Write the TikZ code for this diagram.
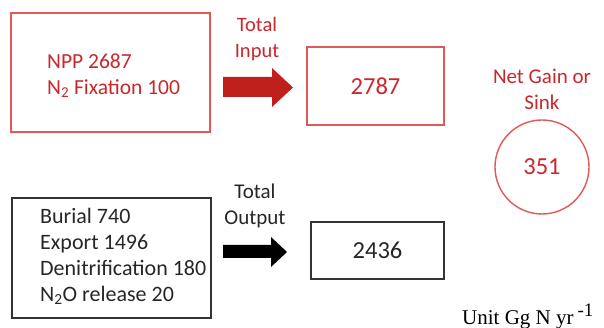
\documentclass[tikz,border=0pt]{standalone}
\usepackage{fontspec}
\setmainfont{Carlito}
\newfontfamily\serifunit{Liberation Serif}
\definecolor{boxred}{HTML}{E05858}
\definecolor{txtred}{HTML}{C8282C}
\definecolor{arrred}{HTML}{C0201C}
\tikzset{
  redbox/.style={draw=boxred, line width=1.4pt},
  blackbox/.style={draw=black!80, line width=1.2pt},
  lbl/.style={inner sep=0pt, align=center},
}
\begin{document}
\begin{tikzpicture}[x=1pt,y=-1pt]
\useasboundingbox (0,0) rectangle (604,328);
% input box
\draw[redbox] (11,13) rectangle (210,132);
\node[lbl, text=txtred, font=\fontsize{21.5}{25.5}\selectfont, align=left, anchor=west] (inp) at (47,75.5) {NPP 2687\\N\textsubscript{2} Fixation 100};
% total input
\node[lbl, text=txtred, font=\fontsize{20.5}{26}\selectfont] (ti) at (257,39) {Total\\Input};
\fill[arrred] (223,77) -- (272,77) -- (272,68) -- (293,87.5) -- (272,107) -- (272,97) -- (223,97) -- cycle;
\node[redbox, minimum width=137pt, minimum height=78pt, font=\fontsize{24.5}{28}\selectfont, text=txtred] (b2787) at (375.5,86) {2787};
% net gain
\node[lbl, text=txtred, font=\fontsize{21}{26}\selectfont] (ng) at (542,89) {Net Gain or\\Sink};
\node[draw=boxred, line width=1.4pt, circle, minimum size=94pt, inner sep=0pt, text=txtred, font=\fontsize{24.5}{28}\selectfont] (c351) at (542,167) {351};
% output box
\draw[blackbox] (12,198) rectangle (211,318);
\node[lbl, text=black!85, font=\fontsize{22}{26}\selectfont, align=left, anchor=west] (outp) at (40,256) {Burial 740\\Export 1496\\Denitrification 180\\N\textsubscript{2}O release 20};
\node[lbl, text=black!85, font=\fontsize{21}{25.5}\selectfont] (to) at (255,206) {Total\\Output};
\fill[black] (223,245) -- (271,245) -- (271,237) -- (287,252) -- (271,267) -- (271,258) -- (223,258) -- cycle;
\node[blackbox, minimum width=133pt, minimum height=57pt, font=\fontsize{24.5}{28}\selectfont, text=black!85] (b2436) at (377.5,250.5) {2436};
% unit
\node[lbl, anchor=west, font=\serifunit\fontsize{21}{24}\selectfont] (unit) at (462,316) {Unit Gg N yr\hspace{4pt}\raisebox{8pt}{\fontsize{19}{20}\selectfont -1}};
\end{tikzpicture}
\end{document}
